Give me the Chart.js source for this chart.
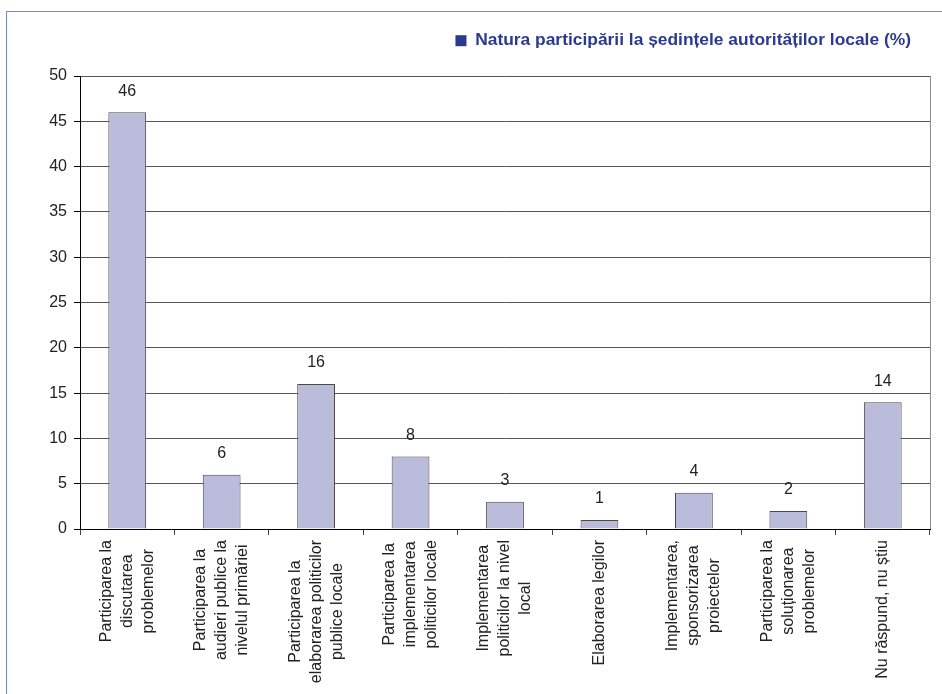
<!DOCTYPE html>
<html>
<head>
<meta charset="utf-8">
<script src="https://cdn.jsdelivr.net/npm/chart.js@4/dist/chart.umd.min.js"></script>
<style>
    html, body { margin: 0; padding: 0; background: #fff; }
    #wrap { position: relative; width: 942px; height: 694px; }
    #frame { position: absolute; left: 6px; top: 11px; right: 0; bottom: 0; border-left: 1px solid #7489c9; border-top: 1px solid #7489c9; pointer-events: none; }
    canvas { position: absolute; left: 0; top: 0; }
</style>
</head>
<body>
<div id="wrap">
    <canvas id="chart" width="942" height="694"></canvas>
    <div id="frame"></div>
</div>
<script>
const seriesLabel = "Natura participării la ședințele autorităților locale (%)";

const categories = [
    ["Participarea la", "discutarea", "problemelor"],
    ["Participarea la", "audieri publice la", "nivelul primăriei"],
    ["Participarea la", "elaborarea politicilor", "publice locale"],
    ["Participarea la", "implementarea", "politicilor locale"],
    ["Implementarea", "politicilor la nivel", "local"],
    ["Elaborarea legilor"],
    ["Implementarea,", "sponsorizarea", "proiectelor"],
    ["Participarea la", "soluționarea", "problemelor"],
    ["Nu răspund, nu știu"]
];

const shares = [46, 6, 16, 8, 3, 1, 4, 2, 14];

const yTicks = [0, 5, 10, 15, 20, 25, 30, 35, 40, 45, 50];

const fontFamily = "'Liberation Sans', Arial, sans-serif";
const legendColor = "#2b3a8f";

// category labels are drawn by hand so the lines stay centred on each other
const labelsPlugin = {
    id: "customLabels",
    afterDatasetsDraw(chart) {
        const ctx = chart.ctx;
        const xScale = chart.scales.x;
        const area = chart.chartArea;
        ctx.save();

        ctx.strokeStyle = "#8c8c8c";
        ctx.lineWidth = 1;
        ctx.beginPath();
        ctx.moveTo(Math.round(area.right) + 0.5, area.top);
        ctx.lineTo(Math.round(area.right) + 0.5, area.bottom);
        ctx.stroke();

        ctx.font = "16px " + fontFamily;
        ctx.fillStyle = "#222";
        ctx.textAlign = "center";
        ctx.textBaseline = "middle";

        const meta = chart.getDatasetMeta(0);
        meta.data.forEach((bar, i) => {
            ctx.fillText(String(shares[i]), bar.x, bar.y - 21);
        });

        categories.forEach((lines, i) => {
            const cx = xScale.getPixelForValue(i);
            const maxW = Math.max(...lines.map(l => ctx.measureText(l).width));
            ctx.save();
            ctx.translate(cx, area.bottom + 11);
            ctx.rotate(-Math.PI / 2);
            lines.forEach((line, j) => {
                ctx.fillText(line, -maxW / 2, (j - (lines.length - 1) / 2) * 21);
            });
            ctx.restore();
        });

        ctx.restore();
    }
};

const legendHeight = {
    id: "legendHeight",
    afterInit(chart) {
        const fit = chart.legend.fit;
        chart.legend.fit = function () {
            fit.call(this);
            this.height = 63;
        };
    }
};

new Chart(document.getElementById("chart"), {
    type: "bar",
    data: {
        labels: categories.map(c => c.join(" ")),
        datasets: [{
            label: seriesLabel,
            data: shares,
            backgroundColor: "#bbbbdc",
            borderColor: "#4a4a4a",
            borderWidth: 1,
            barPercentage: 0.4,
            categoryPercentage: 1
        }]
    },
    options: {
        responsive: false,
        animation: false,
        layout: {
            padding: { top: 13, right: 12, left: 0, bottom: 0 }
        },
        plugins: {
            tooltip: { enabled: false },
            legend: {
                position: "top",
                align: "end",
                labels: {
                    boxWidth: 11,
                    boxHeight: 11,
                    padding: 19,
                    color: legendColor,
                    font: { family: fontFamily, size: 17.4, weight: "bold" },
                    generateLabels(chart) {
                        const items = Chart.defaults.plugins.legend.labels.generateLabels(chart);
                        items.forEach(item => {
                            item.fillStyle = legendColor;
                            item.strokeStyle = legendColor;
                            item.lineWidth = 0;
                            item.fontColor = legendColor;
                        });
                        return items;
                    }
                }
            }
        },
        scales: {
            x: {
                grid: {
                    display: true,
                    drawOnChartArea: false,
                    drawTicks: true,
                    tickLength: 6,
                    color: "#444"
                },
                border: { display: true, color: "#000", width: 1 },
                ticks: { display: false },
                afterFit(scale) {
                    scale.height = 165;
                }
            },
            y: {
                min: 0,
                max: 50,
                afterBuildTicks(scale) {
                    scale.ticks = yTicks.map(v => ({ value: v }));
                },
                grid: {
                    color: "#555",
                    tickLength: 6,
                    tickColor: "#000"
                },
                border: { display: true, color: "#000", width: 1 },
                ticks: {
                    padding: 7,
                    color: "#222",
                    font: { family: fontFamily, size: 16 }
                },
                afterFit(scale) {
                    scale.width = 80;
                }
            }
        }
    },
    plugins: [labelsPlugin, legendHeight]
});
</script>
</body>
</html>
